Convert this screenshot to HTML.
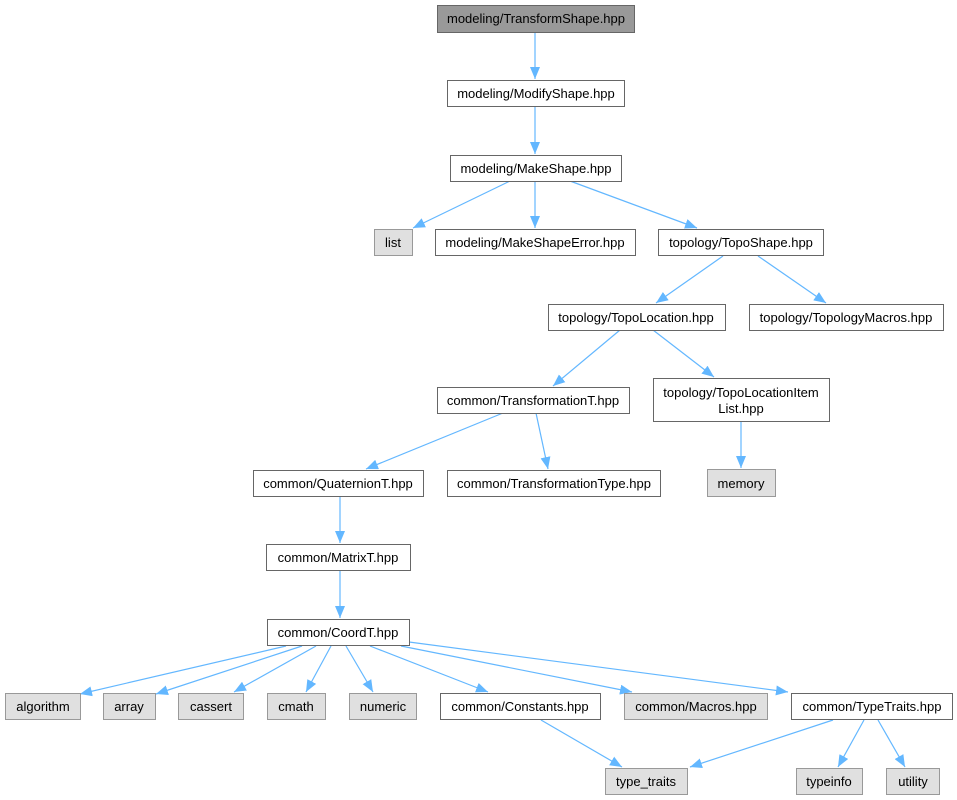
<!DOCTYPE html>
<html><head><meta charset="utf-8"><style>
html,body{margin:0;padding:0;background:#fff}
svg{display:block}
text{font-family:"Liberation Sans",Arial,sans-serif;font-size:13px;fill:#000}
</style></head><body>
<svg width="957" height="800" viewBox="0 0 957 800" xmlns="http://www.w3.org/2000/svg">
<defs><marker id="a" viewBox="0 0 12 10" refX="12" refY="5" markerWidth="12" markerHeight="10" markerUnits="userSpaceOnUse" orient="auto"><path d="M0,0L12,5L0,10z" fill="#63b7ff"/></marker></defs>
<g stroke="#63b7ff" stroke-width="1.2" fill="none" marker-end="url(#a)">
<line x1="535" y1="32" x2="535" y2="79"/>
<line x1="535" y1="106" x2="535" y2="154"/>
<line x1="510" y1="181" x2="413" y2="228"/>
<line x1="535" y1="181" x2="535" y2="228"/>
<line x1="570" y1="181" x2="697" y2="228"/>
<line x1="723" y1="256" x2="656" y2="303"/>
<line x1="758" y1="256" x2="826" y2="303"/>
<line x1="620" y1="330" x2="553" y2="386"/>
<line x1="653" y1="330" x2="714" y2="377"/>
<line x1="503" y1="413" x2="366" y2="469"/>
<line x1="536" y1="413" x2="548" y2="469"/>
<line x1="741" y1="421" x2="741" y2="468"/>
<line x1="340" y1="496" x2="340" y2="543"/>
<line x1="340" y1="570" x2="340" y2="618"/>
<line x1="286" y1="646" x2="80" y2="694"/>
<line x1="302" y1="646" x2="156" y2="694"/>
<line x1="316" y1="646" x2="234" y2="692"/>
<line x1="331" y1="646" x2="306" y2="692"/>
<line x1="346" y1="646" x2="373" y2="692"/>
<line x1="370" y1="646" x2="488" y2="692"/>
<line x1="401" y1="646" x2="632" y2="692"/>
<line x1="409" y1="642" x2="788" y2="692"/>
<line x1="541" y1="720" x2="622" y2="767"/>
<line x1="833" y1="720" x2="690" y2="767"/>
<line x1="864" y1="720" x2="838" y2="767"/>
<line x1="878" y1="720" x2="905" y2="767"/>
</g>
<g stroke-width="1">
<rect x="437.5" y="5.5" width="197" height="27" fill="#999" stroke="#666"/>
<rect x="447.5" y="80.5" width="177" height="26" fill="#fff" stroke="#666"/>
<rect x="450.5" y="155.5" width="171" height="26" fill="#fff" stroke="#666"/>
<rect x="374.5" y="229.5" width="38" height="26" fill="#e0e0e0" stroke="#999"/>
<rect x="435.5" y="229.5" width="200" height="26" fill="#fff" stroke="#666"/>
<rect x="658.5" y="229.5" width="165" height="26" fill="#fff" stroke="#666"/>
<rect x="548.5" y="304.5" width="177" height="26" fill="#fff" stroke="#666"/>
<rect x="749.5" y="304.5" width="194" height="26" fill="#fff" stroke="#666"/>
<rect x="437.5" y="387.5" width="192" height="26" fill="#fff" stroke="#666"/>
<rect x="653.5" y="378.5" width="176" height="43" fill="#fff" stroke="#666"/>
<rect x="253.5" y="470.5" width="170" height="26" fill="#fff" stroke="#666"/>
<rect x="447.5" y="470.5" width="213" height="26" fill="#fff" stroke="#666"/>
<rect x="707.5" y="469.5" width="68" height="27" fill="#e0e0e0" stroke="#999"/>
<rect x="266.5" y="544.5" width="144" height="26" fill="#fff" stroke="#666"/>
<rect x="267.5" y="619.5" width="142" height="26" fill="#fff" stroke="#666"/>
<rect x="5.5" y="693.5" width="75" height="26" fill="#e0e0e0" stroke="#999"/>
<rect x="103.5" y="693.5" width="52" height="26" fill="#e0e0e0" stroke="#999"/>
<rect x="178.5" y="693.5" width="65" height="26" fill="#e0e0e0" stroke="#999"/>
<rect x="267.5" y="693.5" width="58" height="26" fill="#e0e0e0" stroke="#999"/>
<rect x="349.5" y="693.5" width="67" height="26" fill="#e0e0e0" stroke="#999"/>
<rect x="440.5" y="693.5" width="160" height="26" fill="#fff" stroke="#666"/>
<rect x="624.5" y="693.5" width="143" height="26" fill="#e0e0e0" stroke="#999"/>
<rect x="791.5" y="693.5" width="161" height="26" fill="#fff" stroke="#666"/>
<rect x="605.5" y="768.5" width="82" height="26" fill="#e0e0e0" stroke="#999"/>
<rect x="796.5" y="768.5" width="66" height="26" fill="#e0e0e0" stroke="#999"/>
<rect x="886.5" y="768.5" width="53" height="26" fill="#e0e0e0" stroke="#999"/>
</g>
<g text-anchor="middle">
<text x="536" y="23">modeling/TransformShape.hpp</text>
<text x="536" y="98">modeling/ModifyShape.hpp</text>
<text x="536" y="173">modeling/MakeShape.hpp</text>
<text x="393" y="247">list</text>
<text x="535" y="247">modeling/MakeShapeError.hpp</text>
<text x="741" y="247">topology/TopoShape.hpp</text>
<text x="636" y="322">topology/TopoLocation.hpp</text>
<text x="846" y="322">topology/TopologyMacros.hpp</text>
<text x="533" y="405">common/TransformationT.hpp</text>
<text x="741" y="397">topology/TopoLocationItem</text>
<text x="741" y="413">List.hpp</text>
<text x="338" y="488">common/QuaternionT.hpp</text>
<text x="554" y="488">common/TransformationType.hpp</text>
<text x="741" y="488">memory</text>
<text x="338" y="562">common/MatrixT.hpp</text>
<text x="338" y="637">common/CoordT.hpp</text>
<text x="43" y="711">algorithm</text>
<text x="129" y="711">array</text>
<text x="211" y="711">cassert</text>
<text x="296" y="711">cmath</text>
<text x="383" y="711">numeric</text>
<text x="520" y="711">common/Constants.hpp</text>
<text x="696" y="711">common/Macros.hpp</text>
<text x="872" y="711">common/TypeTraits.hpp</text>
<text x="646" y="786">type_traits</text>
<text x="829" y="786">typeinfo</text>
<text x="913" y="786">utility</text>
</g>
</svg>
</body></html>
